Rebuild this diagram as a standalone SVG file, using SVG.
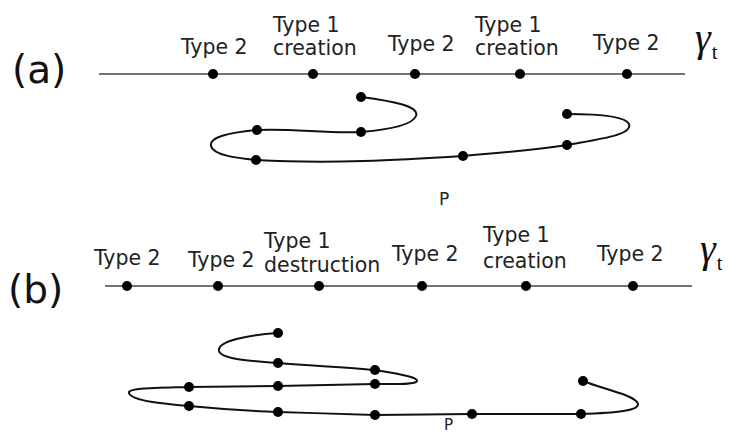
<svg xmlns="http://www.w3.org/2000/svg" width="729" height="434" viewBox="0 0 729 434">
<style>
.lbl{font-family:"DejaVu Sans","Noto Sans",sans-serif;font-size:20.5px;fill:#222}
.pan{font-family:"DejaVu Sans","Noto Sans",sans-serif;font-size:39px;fill:#111}
.p{font-family:"DejaVu Sans","Noto Sans",sans-serif;font-size:17px;fill:#222}
.gam{font-family:"Liberation Serif","DejaVu Serif",serif;font-style:italic;font-size:40px;fill:#111}
.sub{font-family:"Liberation Serif","DejaVu Serif",serif;font-style:normal;font-size:21px;fill:#111}
.axis{stroke:#444;stroke-width:1.7;fill:none}
.curve{stroke:#111;stroke-width:2;fill:none}
.dot{fill:#000}
</style>
<rect width="729" height="434" fill="#fff"/>
<g id="panel-a">
<text class="pan" x="12" y="83">(a)</text>
<text class="gam" x="695" y="51">γ<tspan class="sub" dy="8" dx="1">t</tspan></text>
<text class="p" x="439" y="205">P</text>
</g>
<g id="connectors">
<line class="axis" x1="99" y1="74" x2="685" y2="74"/>
<path class="curve" d="M361,97 C392,101 420,106 416,116 C412,126 385,130 361,132 C330,134 290,128 257,130 C228,133 209,137 211,146 C213,155 236,158 256,160 C330,164 400,160 463,156 C500,153 535,150 567,145 C600,139 633,135 629,124 C625,115 592,114 567,114"/>
<line class="axis" x1="105" y1="286" x2="692" y2="286"/>
<path class="curve" d="M278,333 C248,335 217,341 219,351 C221,359 250,361 278,363 C315,366 345,367 375,370 C400,374 422,378 416,382 C410,385 392,384 375,384 L278,386 L189,387 C155,388 127,388 129,393 C131,401 165,404 189,406 C220,409 250,411 278,412 C310,413 345,414 375,415 L472,414 L581,414 C612,413 644,411 637,402 C630,394 603,389 583,381"/>
</g>
<g id="node-a1"><circle class="dot" cx="213" cy="74" r="5"/><text class="lbl" x="181" y="54">Type 2</text></g>
<g id="node-a2"><circle class="dot" cx="313" cy="74" r="5"/><text class="lbl" x="273" y="32">Type 1</text><text class="lbl" x="273" y="55">creation</text></g>
<g id="node-a3"><circle class="dot" cx="415" cy="74" r="5"/><text class="lbl" x="388" y="51">Type 2</text></g>
<g id="node-a4"><circle class="dot" cx="520" cy="74" r="5"/><text class="lbl" x="475" y="32">Type 1</text><text class="lbl" x="475" y="55">creation</text></g>
<g id="node-a5"><circle class="dot" cx="627" cy="74" r="5"/><text class="lbl" x="593" y="50">Type 2</text></g>
<g id="curve-a-points">
<circle class="dot" cx="361" cy="97" r="5"/>
<circle class="dot" cx="361" cy="132" r="5"/>
<circle class="dot" cx="257" cy="130" r="5"/>
<circle class="dot" cx="256" cy="160" r="5"/>
<circle class="dot" cx="463" cy="156" r="5"/>
<circle class="dot" cx="567" cy="145" r="5"/>
<circle class="dot" cx="567" cy="114" r="5"/>
</g>
<g id="panel-b">
<text class="pan" x="8" y="303">(b)</text>
<text class="gam" x="700" y="262">γ<tspan class="sub" dy="8" dx="1">t</tspan></text>
<text class="p" x="444" y="430" style="font-size:15px">P</text>
</g>
<g id="node-b1"><circle class="dot" cx="127" cy="286" r="5"/><text class="lbl" x="94" y="265">Type 2</text></g>
<g id="node-b2"><circle class="dot" cx="218" cy="286" r="5"/><text class="lbl" x="188" y="267">Type 2</text></g>
<g id="node-b3"><circle class="dot" cx="319" cy="286" r="5"/><text class="lbl" x="264" y="248">Type 1</text><text class="lbl" x="264" y="272">destruction</text></g>
<g id="node-b4"><circle class="dot" cx="422" cy="286" r="5"/><text class="lbl" x="392" y="261">Type 2</text></g>
<g id="node-b5"><circle class="dot" cx="526" cy="286" r="5"/><text class="lbl" x="483" y="242">Type 1</text><text class="lbl" x="483" y="268">creation</text></g>
<g id="node-b6"><circle class="dot" cx="633" cy="286" r="5"/><text class="lbl" x="597" y="261">Type 2</text></g>
<g id="curve-b-points">
<circle class="dot" cx="278" cy="333" r="5"/>
<circle class="dot" cx="278" cy="363" r="5"/>
<circle class="dot" cx="375" cy="370" r="5"/>
<circle class="dot" cx="375" cy="384" r="5"/>
<circle class="dot" cx="278" cy="386" r="5"/>
<circle class="dot" cx="189" cy="387" r="5"/>
<circle class="dot" cx="189" cy="406" r="5"/>
<circle class="dot" cx="278" cy="412" r="5"/>
<circle class="dot" cx="375" cy="415" r="5"/>
<circle class="dot" cx="472" cy="414" r="5"/>
<circle class="dot" cx="581" cy="414" r="5"/>
<circle class="dot" cx="583" cy="381" r="5"/>
</g>
</svg>
